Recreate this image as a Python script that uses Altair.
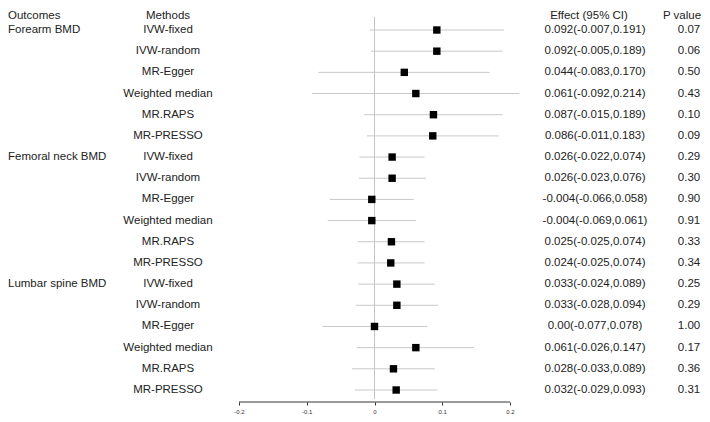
import altair as alt
import pandas as pd

outcomes = ["Forearm BMD", "Femoral neck BMD", "Lumbar spine BMD"]
methods = ["IVW-fixed", "IVW-random", "MR-Egger", "Weighted median", "MR.RAPS", "MR-PRESSO"]

estimates = [0.092, 0.092, 0.044, 0.061, 0.087, 0.086,
             0.026, 0.026, -0.004, -0.004, 0.025, 0.024,
             0.033, 0.033, 0.000, 0.061, 0.028, 0.032]
lower = [-0.007, -0.005, -0.083, -0.092, -0.015, -0.011,
         -0.022, -0.023, -0.066, -0.069, -0.025, -0.025,
         -0.024, -0.028, -0.077, -0.026, -0.033, -0.029]
upper = [0.191, 0.189, 0.170, 0.214, 0.189, 0.183,
         0.074, 0.076, 0.058, 0.061, 0.074, 0.074,
         0.089, 0.094, 0.078, 0.147, 0.089, 0.093]
effect_labels = ["0.092(-0.007,0.191)", "0.092(-0.005,0.189)", "0.044(-0.083,0.170)",
                 "0.061(-0.092,0.214)", "0.087(-0.015,0.189)", "0.086(-0.011,0.183)",
                 "0.026(-0.022,0.074)", "0.026(-0.023,0.076)", "-0.004(-0.066,0.058)",
                 "-0.004(-0.069,0.061)", "0.025(-0.025,0.074)", "0.024(-0.025,0.074)",
                 "0.033(-0.024,0.089)", "0.033(-0.028,0.094)", "0.00(-0.077,0.078)",
                 "0.061(-0.026,0.147)", "0.028(-0.033,0.089)", "0.032(-0.029,0.093)"]
p_labels = ["0.07", "0.06", "0.50", "0.43", "0.10", "0.09",
            "0.29", "0.30", "0.90", "0.91", "0.33", "0.34",
            "0.25", "0.29", "1.00", "0.17", "0.36", "0.31"]
tick_values = [-0.2, -0.1, 0, 0.1, 0.2]
headers = ["Outcomes", "Methods", "Effect (95% CI)", "P value"]

rows = []
for g, outc in enumerate(outcomes):
    for m, meth in enumerate(methods):
        i = g * len(methods) + m
        rows.append(dict(row=i, outcome=outc if m == 0 else "", method=meth,
                         est=estimates[i], lo=lower[i], hi=upper[i],
                         eff=effect_labels[i], p=p_labels[i]))
df = pd.DataFrame(rows)

W, H = 694, 394
FONT = "Liberation Sans"
FS = 11.5
TXT = "#222222"
HEADER_ROW = -0.661

x_scale = alt.Scale(domain=[-0.54096, 0.48339], nice=False, zero=False)
y_scale = alt.Scale(domain=[-1.0389, 17.567], reverse=True, nice=False, zero=False)
x_axis = alt.Axis(values=tick_values, labelExpr="toString(datum.value)", title=None,
                  domain=False, grid=False, ticks=True, tickSize=3, tickColor="#333333",
                  labelFontSize=6, labelColor="#333333", labelPadding=3, labelFont=FONT)

base = alt.Chart(df)

ci = base.mark_rule(color="#c8c8c8", strokeWidth=1).encode(
    x=alt.X("lo:Q", scale=x_scale, axis=x_axis),
    x2="hi:Q",
    y=alt.Y("row:Q", scale=y_scale, axis=None),
)

zero_df = pd.DataFrame({"x": [0.0], "y1": [-0.614], "y2": [17.425]})
zero_line = alt.Chart(zero_df).mark_rule(color="#c4c4c4", strokeWidth=1).encode(
    x=alt.X("x:Q", scale=x_scale, axis=x_axis),
    y=alt.Y("y1:Q", scale=y_scale, axis=None),
    y2="y2:Q",
)

axis_df = pd.DataFrame({"a": [tick_values[0]], "b": [tick_values[-1]]})
axis_line = alt.Chart(axis_df).mark_rule(color="#333333", strokeWidth=1).encode(
    x=alt.X("a:Q", scale=x_scale, axis=x_axis),
    x2="b:Q",
    y=alt.value(H),
)

squares = base.mark_square(color="black", opacity=1, size=55).encode(
    x=alt.X("est:Q", scale=x_scale, axis=x_axis),
    y=alt.Y("row:Q", scale=y_scale, axis=None),
)


def text_layer(data, field, xpos, align):
    return alt.Chart(data).mark_text(font=FONT, fontSize=FS, color=TXT, align=align,
                                     baseline="middle").encode(
        x=alt.value(xpos),
        y=alt.Y("row:Q", scale=y_scale, axis=None),
        text=f"{field}:N",
    )


t_out = text_layer(df, "outcome", 0, "left")
t_meth = text_layer(df, "method", 160, "center")
t_eff = text_layer(df, "eff", 587, "center")
t_p = text_layer(df, "p", 681, "center")

hdr_df = pd.DataFrame({"label": headers, "row": [HEADER_ROW] * len(headers)})
hdr_layers = [
    text_layer(hdr_df[hdr_df["label"] == headers[0]], "label", 0, "left"),
    text_layer(hdr_df[hdr_df["label"] == headers[1]], "label", 160, "center"),
    text_layer(hdr_df[hdr_df["label"] == headers[2]], "label", 581, "center"),
    text_layer(hdr_df[hdr_df["label"] == headers[3]], "label", 674, "center"),
]

chart = alt.layer(
    zero_line, ci, axis_line, squares,
    t_out, t_meth, t_eff, t_p,
    *hdr_layers,
).properties(
    width=W, height=H,
    autosize=alt.AutoSizeParams(type="none"),
    padding={"left": 0, "top": 0, "right": 0, "bottom": 12},
    background="white",
).configure_view(stroke=None)

chart.save("out.html", embed_options={"renderer": "svg", "actions": False})
